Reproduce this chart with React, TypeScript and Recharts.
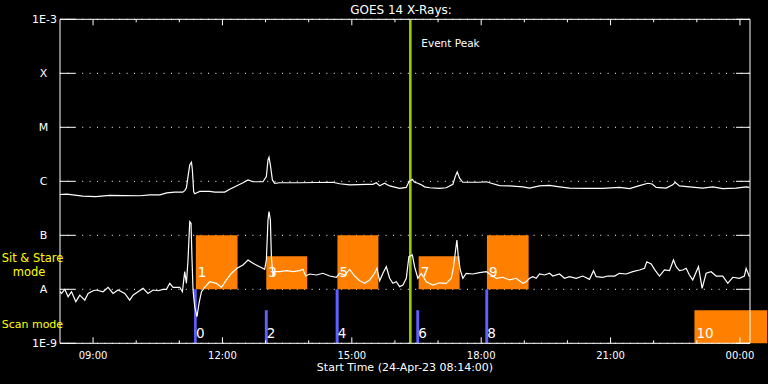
import React from "react";
import {
    ComposedChart,
    Line,
    XAxis,
    YAxis,
    CartesianGrid,
    ReferenceArea,
    ReferenceLine
} from "recharts";

// minutes after the start time (24-Apr-23 08:14:00)
const START_MINUTE = 8 * 60 + 14;

// GOES 14 long channel (1-8 A), W/m^2
const longTimes = [
    0, 9.5, 31.7, 50, 69, 111, 124.9, 138.8, 148.5, 159.6,
    170.8, 173.5, 175.9, 178.1, 180.5, 182.9, 184.2, 186, 187.4, 194.4,
    208.3, 215.3, 229.2, 236.1, 245.4, 254.6, 261.6, 268.5, 282.4, 287.1,
    289.4, 290.8, 292.7, 295.5, 298.7, 305.6, 333.4, 379.3, 389.1, 403,
    426.2, 435.4, 440.1, 444.7, 451.6, 458.6, 472.5, 481.8, 485.4, 490.2,
    493.3, 497.9, 502.7, 507.2, 514.2, 528.1, 537.4, 546.6, 549.9, 552.7,
    555.9, 560.5, 569.8, 583.7, 593.1, 600, 611.5, 625.4, 643.9, 653.3,
    667.2, 681.1, 695, 708.9, 732.1, 755.2, 778.4, 792.4, 806.3, 817.8,
    823.9, 829.5, 843.4, 852.5, 855.9, 861.8, 875.7, 894.2, 908.2, 922.1,
    940.7, 954.6, 959.2
];
const longFlux = [
    5.7e-7, 5.8e-7, 5.3e-7, 5.2e-7, 5.5e-7, 5.4e-7, 5.6e-7, 5.6e-7, 6.1e-7, 6.3e-7,
    6.3e-7, 6.7e-7, 7.6e-7, 1.22e-6, 2.0e-6, 2.25e-6, 1.6e-6, 6.4e-7, 5.9e-7, 6.5e-7,
    6.5e-7, 6.3e-7, 6.3e-7, 7.1e-7, 8.2e-7, 9.4e-7, 1.06e-6, 9.8e-7, 9.8e-7, 1.22e-6,
    2.5e-6, 2.8e-6, 2.0e-6, 1.06e-6, 9.2e-7, 9.4e-7, 9.4e-7, 9.6e-7, 9.0e-7, 8.6e-7,
    8.8e-7, 8.8e-7, 9.4e-7, 8.3e-7, 9.2e-7, 8.2e-7, 7.4e-7, 7.7e-7, 9.8e-7, 1.09e-6,
    9.6e-7, 9.2e-7, 8.6e-7, 7.9e-7, 7.6e-7, 7.4e-7, 7.6e-7, 8.8e-7, 1.22e-6, 1.5e-6,
    1.14e-6, 9.6e-7, 9.6e-7, 9.6e-7, 9.8e-7, 9.2e-7, 8.3e-7, 8.2e-7, 7.9e-7, 7.5e-7,
    8.2e-7, 8.4e-7, 7.9e-7, 7.5e-7, 7.4e-7, 7.4e-7, 7.7e-7, 7.3e-7, 8.3e-7, 9.2e-7,
    8.9e-7, 7.7e-7, 7.5e-7, 8.6e-7, 9.6e-7, 8.2e-7, 7.9e-7, 7.5e-7, 7.9e-7, 7.3e-7,
    7.5e-7, 7.9e-7, 7.7e-7
];

// GOES 14 short channel (0.5-4 A), W/m^2
const shortTimes = [
    0, 2.1, 6.7, 11.3, 16, 22, 27.5, 34.5, 39.1, 46,
    50.8, 59.9, 66.9, 73.8, 80.8, 90.1, 97, 101.6, 108.6, 115.6,
    122.5, 129.5, 136.4, 143.4, 148.1, 152.7, 157.3, 166.6, 170.3, 173.5,
    175.9, 178.1, 180.5, 182.3, 183.7, 185.1, 187.4, 190.6, 193.4, 196.8,
    201.3, 208.3, 217.6, 224.6, 231.5, 238.5, 246.3, 254.6, 261.6, 268.5,
    277.8, 284.8, 287.1, 289.4, 290.8, 292.7, 294.1, 296.4, 298.7, 305.6,
    314.9, 324.1, 333.4, 338, 341.8, 347.4, 356.7, 365.8, 375.2, 384.5,
    389.1, 396, 403, 409.9, 416.9, 423.8, 430.8, 437.7, 440.9, 444.7,
    449.3, 454, 458.6, 463.2, 467.9, 472.5, 477.1, 481.8, 485.4, 490.2,
    493.3, 497.9, 502.7, 509.6, 518.8, 528.1, 537.4, 544.4, 547.6, 550.4,
    552.2, 554.1, 556.9, 560.5, 565.2, 574.4, 583.7, 593.1, 600, 607,
    616.1, 625.4, 634.7, 643.9, 648.6, 653.3, 657.8, 662.6, 667.2, 674.2,
    681.1, 685.7, 695, 701.9, 708.9, 718.2, 727.4, 736.7, 742.3, 746,
    755.2, 762.2, 771.5, 778.4, 787.7, 796.9, 806.3, 813.2, 816.4, 822.5,
    827.1, 834.1, 841, 848, 853.5, 857.3, 861.8, 866.4, 871.2, 875.7,
    880.3, 888.3, 893.4, 899, 905.9, 912.9, 922.1, 929.1, 936, 945.3,
    952.2, 954.6, 959.2
];
const shortFlux = [
    9.0e-9, 8.4e-9, 1.0e-8, 7.3e-9, 9.0e-9, 5.9e-9, 7.8e-9, 6.3e-9, 8.4e-9, 9.4e-9,
    9.7e-9, 9.0e-9, 1.09e-8, 8.4e-9, 9.7e-9, 8.4e-9, 6.3e-9, 7.8e-9, 9.0e-9, 1.04e-8,
    8.4e-9, 9.7e-9, 9.4e-9, 1.0e-8, 1.0e-8, 1.29e-8, 1.09e-8, 1.09e-8, 9.0e-9, 2.12e-8,
    1.29e-8, 3.49e-8, 1.79e-7, 1.67e-7, 3.49e-8, 9.7e-9, 4.8e-9, 3.1e-9, 5.5e-9, 9.0e-9,
    1.09e-8, 1.38e-8, 1.29e-8, 1.09e-8, 1.49e-8, 1.98e-8, 2.45e-8, 2.82e-8, 3.49e-8, 3.03e-8,
    2.62e-8, 2.34e-8, 3.49e-8, 1.92e-7, 2.74e-7, 1.92e-7, 4.02e-8, 1.71e-8, 2.12e-8, 2.12e-8,
    2.21e-8, 2.12e-8, 2.21e-8, 2.34e-8, 1.76e-8, 1.92e-8, 1.84e-8, 1.98e-8, 1.76e-8, 1.67e-8,
    1.98e-8, 1.84e-8, 2.34e-8, 1.76e-8, 1.44e-8, 1.29e-8, 1.49e-8, 1.98e-8, 2.45e-8, 1.44e-8,
    1.98e-8, 2.62e-8, 1.6e-8, 1.29e-8, 1.38e-8, 1.12e-8, 1.2e-8, 1.6e-8, 4.02e-8, 4.32e-8,
    2.62e-8, 1.6e-8, 1.98e-8, 1.38e-8, 1.2e-8, 1.32e-8, 1.29e-8, 1.6e-8, 2.62e-8, 5.35e-8,
    8.2e-8, 4.02e-8, 2.28e-8, 1.6e-8, 1.98e-8, 1.92e-8, 2.03e-8, 2.12e-8, 1.84e-8, 1.6e-8,
    1.67e-8, 1.49e-8, 1.6e-8, 1.29e-8, 1.38e-8, 1.6e-8, 1.71e-8, 1.6e-8, 1.92e-8, 1.84e-8,
    1.98e-8, 1.76e-8, 1.92e-8, 1.6e-8, 1.71e-8, 1.6e-8, 1.76e-8, 1.53e-8, 2.21e-8, 1.71e-8,
    1.67e-8, 1.76e-8, 1.76e-8, 1.98e-8, 1.92e-8, 2.12e-8, 2.28e-8, 2.45e-8, 3.24e-8, 2.94e-8,
    2.34e-8, 1.76e-8, 2.28e-8, 2.21e-8, 3.49e-8, 2.62e-8, 2.21e-8, 2.28e-8, 2.45e-8, 1.84e-8,
    1.49e-8, 2.62e-8, 1.04e-8, 1.98e-8, 2.12e-8, 1.76e-8, 1.76e-8, 1.29e-8, 1.67e-8, 1.6e-8,
    1.76e-8, 2.45e-8, 1.71e-8
];

// observations (even = scan mode, odd = sit & stare)
const obsIds = ["0", "1", "2", "3", "4", "5", "6", "7", "8", "9", "10"];
const obsModes = ["scan", "stare", "scan", "stare", "scan", "stare", "scan", "stare", "scan", "stare", "stare"];
const obsStart = [186.5, 189, 285, 287, 383.5, 386, 495.7, 499, 591.7, 594, 882.7];
const obsEnd = [190.2, 247, 289, 344, 387.7, 443, 499.7, 556, 595.8, 652, 984];
const obsLow = [1e-9, 1e-8, 1e-9, 1e-8, 1e-9, 1e-8, 1e-9, 1e-8, 1e-9, 1e-8, 1e-9];
const obsHigh = [1e-8, 1e-7, 4.1e-9, 4.1e-8, 1e-8, 1e-7, 4.1e-9, 4.1e-8, 1e-8, 1e-7, 4.1e-9];

const eventPeak = 487.4;

const levelTicks = [1e-9, 1e-8, 1e-7, 1e-6, 1e-5, 1e-4, 1e-3];
const levelLabels = ["1E-9", "A", "B", "C", "M", "X", "1E-3"];

const hourTicks = [46, 106, 166, 226, 286, 346, 406, 466, 526, 586, 646, 706, 766, 826, 886, 946];
const hourLabels = ["09:00", "", "", "12:00", "", "", "15:00", "", "", "18:00", "", "", "21:00", "", "", "00:00"];

const FONT = "DejaVu Sans";

const longData = longTimes.map((t, i) => ({ t, flux: longFlux[i] }));
const shortData = shortTimes.map((t, i) => ({ t, flux: shortFlux[i] }));

const levelIndex = (v: number) =>
    levelTicks.findIndex((l) => Math.abs(Math.log10(l) - Math.log10(v)) < 0.01);

const LeftTick = ({ x, y, payload }: any) => {
    const label = levelLabels[levelIndex(payload.value)] ?? "";
    const letter = label.length === 1;
    return (
        <g>
            <line x1={x} x2={x + 15} y1={y} y2={y} stroke="#fff" />
            <text
                x={letter ? x - 16.5 : x - 3}
                y={y + 4}
                textAnchor={letter ? "middle" : "end"}
                fill="#fff"
                fontSize={11}
                fontFamily={FONT}
            >
                {label}
            </text>
        </g>
    );
};

const RightTick = ({ x, y }: any) => (
    <line x1={x - 14} x2={x} y1={y} y2={y} stroke="#fff" />
);

const BottomTick = ({ x, y, payload }: any) => {
    const label = hourLabels[hourTicks.indexOf(payload.value)] ?? "";
    const major = label !== "";
    return (
        <g>
            <line x1={x} x2={x} y1={y} y2={y - (major ? 6 : 3)} stroke="#fff" />
            {major && (
                <text x={x} y={y + 15.7} textAnchor="middle" fill="#fff" fontSize={10} fontFamily={FONT}>
                    {label}
                </text>
            )}
        </g>
    );
};

const TopTick = ({ x, y, payload }: any) => {
    const major = (hourLabels[hourTicks.indexOf(payload.value)] ?? "") !== "";
    return <line x1={x} x2={x} y1={y} y2={y + (major ? 6 : 3)} stroke="#fff" />;
};

const obsLabel = (id: string, low: number) => (props: any) => {
    const vb = props.viewBox || {};
    const bottom = vb.y + vb.height;
    const scanRow = low < 5e-9;
    return (
        <text
            x={vb.x + 2}
            y={scanRow ? bottom - 5 : bottom - 12}
            fill="#fff"
            fontSize={13.5}
            fontFamily={FONT}
        >
            {id}
        </text>
    );
};

const EventLabel = (props: any) => {
    const vb = props.viewBox || {};
    return (
        <text x={vb.x + 11} y={19.3 + 28} fill="#fff" fontSize={10.5} fontFamily={FONT}>
            Event Peak
        </text>
    );
};

export default function App() {
    return (
        <div style={{ position: "fixed", left: 0, top: 0, width: 768, height: 384, background: "#000" }}>
            <ComposedChart
                width={768}
                height={384}
                margin={{ top: 18.3, right: 0, bottom: 0, left: 0 }}
            >
                <CartesianGrid horizontal vertical={false} stroke="#fff" strokeDasharray="1 6.4" />
                <XAxis
                    dataKey="t"
                    type="number"
                    domain={[0, 960]}
                    allowDataOverflow
                    ticks={hourTicks}
                    interval={0}
                    height={40.7}
                    tickSize={0}
                    tickMargin={0}
                    tickLine={false}
                    axisLine={{ stroke: "#fff" }}
                    tick={<BottomTick />}
                />
                <XAxis
                    xAxisId="top"
                    orientation="top"
                    dataKey="t"
                    type="number"
                    domain={[0, 960]}
                    allowDataOverflow
                    ticks={hourTicks}
                    interval={0}
                    height={1}
                    tickSize={0}
                    tickMargin={0}
                    tickLine={false}
                    axisLine={{ stroke: "#fff" }}
                    tick={<TopTick />}
                />
                <YAxis
                    scale="log"
                    type="number"
                    domain={[1e-9, 1e-3]}
                    allowDataOverflow
                    ticks={levelTicks}
                    interval={0}
                    width={60}
                    tickSize={0}
                    tickMargin={0}
                    tickLine={false}
                    axisLine={{ stroke: "#fff" }}
                    tick={<LeftTick />}
                />
                <YAxis
                    yAxisId="right"
                    orientation="right"
                    scale="log"
                    type="number"
                    domain={[1e-9, 1e-3]}
                    allowDataOverflow
                    ticks={levelTicks}
                    interval={0}
                    width={18}
                    tickSize={0}
                    tickMargin={0}
                    tickLine={false}
                    axisLine={{ stroke: "#fff" }}
                    tick={<RightTick />}
                />
                {obsIds.map((id, i) => (
                    <ReferenceArea
                        key={id}
                        x1={obsStart[i]}
                        x2={obsEnd[i]}
                        y1={obsLow[i]}
                        y2={obsHigh[i]}
                        fill={obsModes[i] === "scan" ? "#6060ff" : "#ff8000"}
                        fillOpacity={1}
                        stroke="none"
                        ifOverflow="visible"
                        label={obsLabel(id, obsLow[i])}
                    />
                ))}
                <ReferenceLine x={eventPeak} stroke="#99cc00" strokeWidth={2.6} label={<EventLabel />} />
                <Line
                    data={longData}
                    dataKey="flux"
                    type="linear"
                    stroke="#fff"
                    strokeWidth={1.2}
                    dot={false}
                    isAnimationActive={false}
                />
                <Line
                    data={shortData}
                    dataKey="flux"
                    type="linear"
                    stroke="#fff"
                    strokeWidth={1.2}
                    dot={false}
                    isAnimationActive={false}
                />
            </ComposedChart>
            <svg
                width={768}
                height={384}
                style={{ position: "absolute", left: 0, top: 0, pointerEvents: "none" }}
                fontFamily={FONT}
            >
                <text x={401} y={14} textAnchor="middle" fill="#fff" fontSize={12}>
                    GOES 14 X-Rays:
                </text>
                <text x={405} y={371} textAnchor="middle" fill="#fff" fontSize={11}>
                    Start Time (24-Apr-23 08:14:00)
                </text>
                <text x={1.7} y={262} fill="#ffff00" fontSize={11.5}>
                    Sit &amp; Stare
                </text>
                <text x={12.7} y={276} fill="#ffff00" fontSize={11.5}>
                    mode
                </text>
                <text x={1.7} y={328.3} fill="#ffff00" fontSize={11}>
                    Scan mode
                </text>
            </svg>
        </div>
    );
}
